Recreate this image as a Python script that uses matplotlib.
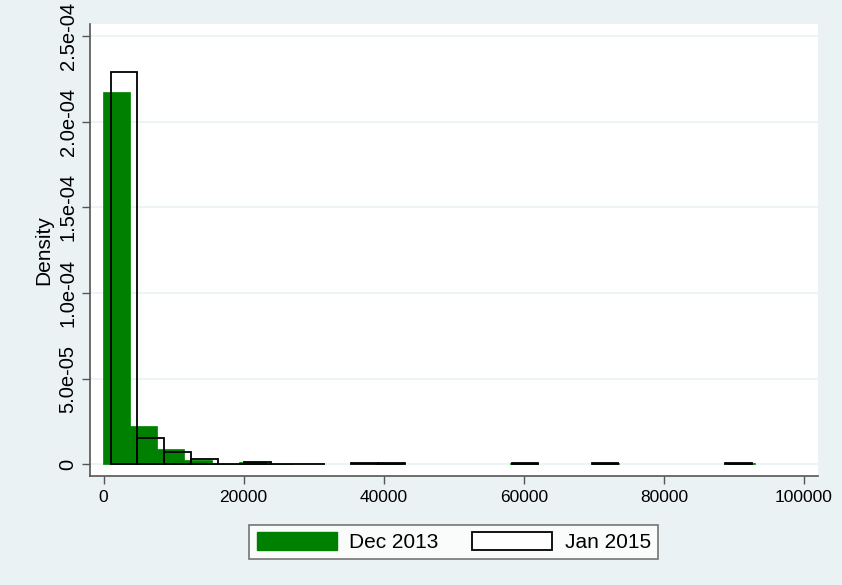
import numpy as np
import matplotlib.pyplot as plt
from matplotlib.patches import Patch

plt.rcParams['font.family'] = ['Liberation Sans', 'DejaVu Sans']

# bin layout of the two histograms
dec_start, dec_width = -100, 3880
jan_start, jan_width = 1030, 3815

# density per bin, bin 0 .. 23
dec_density = [2.175e-4, 2.25e-5, 8.7e-6, 2.4e-6, 2e-7, 1.6e-6, 4e-7, 0,
               0, 0, 6e-7, 0, 0, 0, 0, 6e-7, 0, 0, 6e-7, 0, 0, 0, 0, 6e-7]
jan_density = [2.29e-4, 1.52e-5, 7.0e-6, 2.9e-6, 3e-7, 1.2e-6, 4e-7, 4e-7,
               0, 6e-7, 6e-7, 0, 0, 0, 0, 6e-7, 0, 0, 6e-7, 0, 0, 0, 0, 6e-7]

yticks = [0, 5e-5, 1e-4, 1.5e-4, 2e-4, 2.5e-4]
ylabels = ['0', '5.0e-05', '1.0e-04', '1.5e-04', '2.0e-04', '2.5e-04']
xticks = [0, 20000, 40000, 60000, 80000, 100000]

bg = '#EAF2F3'
fig = plt.figure(figsize=(8.42, 5.85), dpi=100, facecolor=bg)
ax = fig.add_axes([0.1069, 0.1863, 0.8646, 0.7727])

def bins(start, width, dens):
    dens = np.asarray(dens)
    x = start + width * np.arange(len(dens))
    keep = dens > 0
    return x[keep], dens[keep]

for y in yticks:
    ax.axhline(y, color=bg, lw=1.2, zorder=0)

dx, dy = bins(dec_start, dec_width, dec_density)
jx, jy = bins(jan_start, jan_width, jan_density)
ax.bar(dx, dy, width=dec_width, align='edge', color='#008000',
       edgecolor='#008000', lw=0.5, zorder=2)
ax.bar(jx, jy, width=jan_width, align='edge', fill=False,
       edgecolor='black', lw=1.3, zorder=3)

ax.set_xlim(-1927, 102000)
ax.set_ylim(-6.83e-6, 2.569e-4)
ax.set_xticks(xticks)
ax.set_xticklabels([str(t) for t in xticks], fontsize=12.5)
ax.set_yticks(yticks)
ax.set_yticklabels(ylabels, fontsize=14.5, rotation=90, va='center')
ax.tick_params(direction='out', length=6, width=1, color='#555555', pad=4)
ax.tick_params(axis='y', pad=3)
ax.set_ylabel('Density', fontsize=15, labelpad=4)

for side in ['top', 'right']:
    ax.spines[side].set_visible(False)
for side in ['left', 'bottom']:
    ax.spines[side].set_color('#555555')
    ax.spines[side].set_linewidth(1.2)

handles = [Patch(facecolor='#008000', edgecolor='#008000'),
           Patch(facecolor='white', edgecolor='black', lw=1.3)]
leg = fig.legend(handles, ['Dec 2013', 'Jan 2015'], loc='center',
                 bbox_to_anchor=(0.539, 0.0735), ncol=2, fontsize=15,
                 handlelength=3.85, handleheight=0.96, handletextpad=0.6,
                 columnspacing=1.6, fancybox=False, frameon=True,
                 borderpad=0.35)
leg.get_frame().set_edgecolor('#555555')
leg.get_frame().set_linewidth(1.2)

fig.savefig('out.png', dpi=100, facecolor=bg)
